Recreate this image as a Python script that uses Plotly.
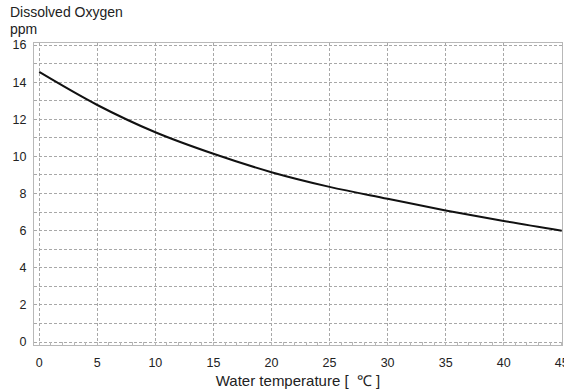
import plotly.graph_objects as go

temperature = [0, 5, 10, 15, 20, 25, 30, 35, 40, 45]
dissolved_oxygen = [14.55, 12.77, 11.3, 10.14, 9.15, 8.36, 7.72, 7.09, 6.52, 6.0]
x_ticks = [0, 5, 10, 15, 20, 25, 30, 35, 40, 45]
y_ticks = [0, 2, 4, 6, 8, 10, 12, 14, 16]

FONT = "Liberation Sans, Arial, sans-serif"
GRID = "#a8a8a8"

fig = go.Figure()
fig.add_trace(go.Scatter(
    x=temperature, y=dissolved_oxygen, mode="lines",
    line=dict(color="#111111", width=2, shape="spline", smoothing=1.0),
    showlegend=False, hoverinfo="skip"))

fig.update_layout(
    width=564, height=390,
    margin=dict(l=34, r=2, t=43, b=45),
    paper_bgcolor="white", plot_bgcolor="white",
    font=dict(family=FONT, size=12.5, color="#222222"),
    annotations=[
        dict(text="Dissolved Oxygen", xref="paper", yref="paper", x=-0.05, y=1.0,
             xanchor="left", yanchor="bottom", yshift=21, showarrow=False,
             font=dict(family=FONT, size=14, color="#222222")),
        dict(text="ppm", xref="paper", yref="paper", x=-0.05, y=1.0,
             xanchor="left", yanchor="bottom", yshift=4, showarrow=False,
             font=dict(family=FONT, size=14, color="#222222")),
    ],
)
fig.update_xaxes(
    range=[-0.45, 45.02], tickvals=x_ticks, ticktext=[str(v) for v in x_ticks],
    showgrid=True, gridcolor=GRID, gridwidth=1, griddash="3px,2px",
    zeroline=False, showline=True, linecolor="#b8b8b8", linewidth=1, mirror=True,
    ticks="", ticklabelstandoff=6, ticklabeloverflow="allow", automargin=False,
    minor=dict(dtick=1, ticks="inside", ticklen=3, tickcolor="#b8b8b8", showgrid=False),
    title=dict(text="Water temperature [  ℃ ]", font=dict(family=FONT, size=15, color="#222222"), standoff=6),
    tickfont=dict(family=FONT, size=12.5, color="#222222"),
)
fig.update_yaxes(
    range=[-0.16, 16.11], tickvals=y_ticks, ticktext=[str(v) for v in y_ticks],
    showgrid=True, gridcolor=GRID, gridwidth=1, griddash="3px,2px",
    zeroline=False, showline=True, linecolor="#b8b8b8", linewidth=1, mirror=True,
    ticks="", ticklabelstandoff=4, automargin=False,
    minor=dict(dtick=1, showgrid=True, gridcolor=GRID, gridwidth=1, griddash="3px,2px"),
    tickfont=dict(family=FONT, size=12.5, color="#222222"),
)

fig.write_html("out.html")
